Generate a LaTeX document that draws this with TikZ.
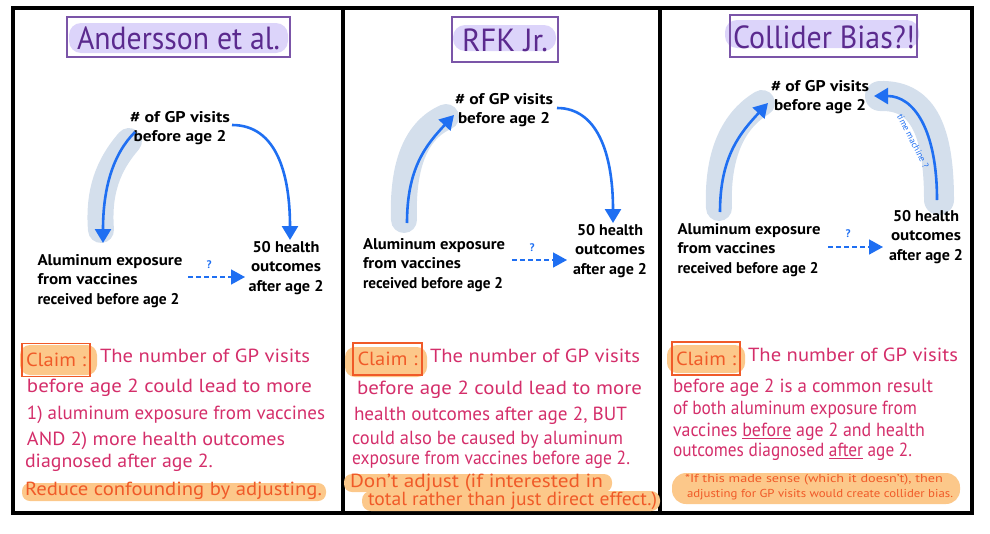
\documentclass[tikz,border=0pt]{standalone}
\usepackage{fontspec}
\setmainfont{PT Sans}
\usetikzlibrary{arrows.meta,calc,backgrounds}
\definecolor{arrowblue}{HTML}{1F6FF2}
\definecolor{hlblue}{HTML}{D4DFEC}
\definecolor{titlepurple}{HTML}{5B2A8E}
\definecolor{boxpurple}{HTML}{7B55A8}
\definecolor{hlpurple}{HTML}{DCD4FA}
\definecolor{claimorange}{HTML}{F05A28}
\definecolor{hlorange}{HTML}{FCC88A}
\definecolor{claimpink}{HTML}{D42E6A}
\newlength{\fitlen}
\newcommand{\fitto}[2]{\settowidth{\fitlen}{#2}\pgfmathsetmacro{\fitfac}{#1/\fitlen}\scalebox{\fitfac}[1]{#2}}
\begin{document}
\begin{tikzpicture}[x=1pt,y=-1pt,
  every node/.style={inner sep=0pt,outer sep=0pt},
  frameline/.style={draw=black,line width=4.2pt},
  titlebox/.style={draw=boxpurple,line width=1.2pt},
  titletext/.style={text=titlepurple,font=\fontsize{32}{34}\selectfont},
  titlehl/.style={fill=hlpurple,rounded corners=12pt},
  lbl/.style={text=black,font=\bfseries\fontsize{15.5}{19.5}\selectfont,align=center},
  lblleft/.style={text=black,font=\bfseries\fontsize{15.5}{19.5}\selectfont,align=left},
  qmark/.style={text=arrowblue,font=\bfseries\fontsize{11}{11}\selectfont},
  arr/.style={draw=arrowblue,line width=2.6pt,-{Triangle[width=16pt,length=14pt]}},
  dasharr/.style={draw=arrowblue,line width=1.6pt,dash pattern=on 5pt off 3pt,-{Triangle[width=15pt,length=14pt]}},
  hl/.style={draw=hlblue,line width=26pt,line cap=round},
  claimbox/.style={draw=claimorange,line width=1.6pt,text=claimorange,font=\fontsize{19}{19}\selectfont,minimum width=68pt,minimum height=33pt},
  claimhl/.style={fill=hlorange,rounded corners=10pt},
  claimtext/.style={text=claimpink,font=\fontsize{19}{19}\selectfont,text height=13pt,text depth=4pt,anchor=west},
  advice/.style={text=claimorange,font=\fontsize{19}{19}\selectfont,text height=13pt,text depth=4pt,anchor=west},
  smallnote/.style={text=claimorange,font=\fontsize{11.5}{12}\selectfont,text height=8pt,text depth=2.5pt,anchor=west},
  tmtext/.style={text=arrowblue,font=\fontsize{9}{9}\selectfont}
]
\useasboundingbox (0,0) rectangle (990,533);

% ---------- frame ----------
\draw[frameline] (13,8) rectangle (972,513);
\draw[frameline] (343,8) -- (343,513);
\draw[frameline] (660,8) -- (660,513);

% ---------- titles ----------
\fill[titlehl] (69,23) rectangle (288,53);
\node[titlebox,minimum width=223pt,minimum height=40pt] (t1) at (178.5,37) {};
\node[titletext] (t1t) at (178.5,38.5) {\fitto{203}{Andersson et al.}};

\fill[titlehl] (453,25) rectangle (556,51);
\node[titlebox,minimum width=106pt,minimum height=45pt] (t2) at (505,39.5) {};
\node[titletext] (t2t) at (505,40) {\fitto{86}{RFK Jr.}};

\fill[titlehl] (725,20) rectangle (919,48);
\node[titlebox,minimum width=187pt,minimum height=42pt] (t3) at (823.5,36) {};
\node[titletext] (t3t) at (824,37) {\fitto{182}{Collider Bias?!}};

% ---------- panel 1 diagram ----------
\node[lbl] (gp1) at (180,128) {\fitto{100}{\# of GP visits}\\\fitto{93}{before age 2}};
\node[lblleft] (al1) at (110,281) {\fitto{145}{Aluminum exposure}\\\fitto{100}{from vaccines}\\\fitto{142}{received before age 2}};
\node[lbl] (ho1) at (286,268) {\fitto{67}{50 health}\\\fitto{70}{outcomes}\\\fitto{75}{after age 2}};
\node[qmark] (q1) at (209,265) {?};
\begin{scope}[on background layer]
  \draw[hl] (129,141) .. controls (108,165) and (98,192) .. (101,230);
\end{scope}
\draw[arr] ($(gp1)+(-45,4)$) .. controls +(-22,22) and +(0,-55) .. ($(al1)+(-7,-38)$);
\draw[arr] ($(gp1)+(52,-3)$) .. controls +(45,0) and +(0,-65) .. ($(ho1)+(4,-28)$);
\draw[dasharr] ($(al1)+(78,-4)$) -- ($(ho1)+(-41,9)$);

% ---------- panel 2 diagram ----------
\node[lbl] (gp2) at (504,110) {\fitto{98}{\# of GP visits}\\\fitto{92}{before age 2}};
\node[lblleft] (al2) at (434,265) {\fitto{142}{Aluminum exposure}\\\fitto{98}{from vaccines}\\\fitto{140}{received before age 2}};
\node[lbl] (ho2) at (610,251) {\fitto{66}{50 health}\\\fitto{70}{outcomes}\\\fitto{74}{after age 2}};
\node[qmark] (q2) at (532,248) {?};
\begin{scope}[on background layer]
  \draw[hl] (404,220) .. controls (402,165) and (416,130) .. (446,117);
\end{scope}
\draw[arr] ($(al2)+(-27,-42)$) .. controls +(0,-55) and +(-28,30) .. ($(gp2)+(-50,5)$);
\draw[arr] ($(gp2)+(53,-2)$) .. controls +(40,0) and +(0,-70) .. ($(ho2)+(3,-28)$);
\draw[dasharr] ($(al2)+(78,-5)$) -- ($(ho2)+(-43,9)$);

% ---------- panel 3 diagram ----------
\node[lbl] (gp3) at (820,97) {\fitto{98}{\# of GP visits}\\\fitto{92}{before age 2}};
\node[lblleft] (al3) at (749,250) {\fitto{143}{Aluminum exposure}\\\fitto{98}{from vaccines}\\\fitto{141}{received before age 2}};
\node[lbl] (ho3) at (926,237) {\fitto{66}{50 health}\\\fitto{70}{outcomes}\\\fitto{74}{after age 2}};
\node[qmark] (q3) at (848,234) {?};
\begin{scope}[on background layer]
  \draw[hl] (719,208) .. controls (717,160) and (730,122) .. (762,103);
  \draw[hl,line width=30pt] (939,200) .. controls (939,125) and (920,95) .. (880,96);
\end{scope}
\draw[arr] ($(al3)+(-29,-38)$) .. controls +(0,-55) and +(-28,30) .. ($(gp3)+(-52,6)$);
\draw[arr] ($(ho3)+(11,-37)$) .. controls +(0,-70) and +(40,0) .. ($(gp3)+(54,-1)$);
\node[tmtext,rotate=-63] (tm) at (913,141) {time machine ?};
\draw[dasharr] ($(al3)+(79,-3)$) -- ($(ho3)+(-43,10)$);

% ---------- panel 1 claim ----------
\fill[claimhl] (20,345) rectangle (97,375);
\node[claimbox] (c1) at (56,360) {\fitto{60}{Claim :}};
\node[claimtext] (p1a) at (100,358) {\fitto{210}{The number of GP visits}};
\node[claimtext] (p1b) at (27,388) {\fitto{285}{before age 2 could lead to more}};
\node[claimtext] (p1c) at (27,415) {\fitto{298}{1) aluminum exposure from vaccines}};
\node[claimtext] (p1d) at (27,441) {\fitto{258}{AND 2) more health outcomes}};
\node[claimtext] (p1e) at (25,463) {\fitto{188}{diagnosed after age 2.}};
\fill[claimhl,rounded corners=8pt] (22,483) rectangle (326,501);
\node[advice] (p1f) at (25,491) {\fitto{297}{Reduce confounding by adjusting.}};

% ---------- panel 2 claim ----------
\fill[claimhl] (345,347) rectangle (427,377);
\node[claimbox,minimum width=69pt,minimum height=32pt] (c2) at (387.5,359) {\fitto{60}{Claim :}};
\node[claimtext] (p2a) at (430,358) {\fitto{210}{The number of GP visits}};
\node[claimtext] (p2b) at (357,390) {\fitto{285}{before age 2 could lead to more}};
\node[claimtext] (p2c) at (354,416) {\fitto{273}{health outcomes after age 2, BUT}};
\node[claimtext] (p2d) at (352,440) {\fitto{271}{could also be caused by aluminum}};
\node[claimtext] (p2e) at (352,460) {\fitto{278}{exposure from vaccines before age 2.}};
\fill[claimhl,rounded corners=8pt] (344,474) rectangle (612,492);
\fill[claimhl,rounded corners=9pt] (362,491) rectangle (660,511);
\node[advice] (p2f) at (350,483) {\fitto{253}{Don't adjust (if interested in}};
\node[advice] (p2g) at (368,501) {\fitto{289}{total rather than just direct effect.)}};

% ---------- panel 3 claim ----------
\fill[claimhl] (667,345) rectangle (745,373);
\node[claimbox] (c3) at (706,358.5) {\fitto{60}{Claim :}};
\node[claimtext] (p3a) at (748,357) {\fitto{210}{The number of GP visits}};
\node[claimtext] (p3b) at (673,388) {\fitto{260}{before age 2 is a common result}};
\node[claimtext] (p3c) at (673,410) {\fitto{244}{of both aluminum exposure from}};
\node[claimtext] (p3d) at (673,432) {\fitto{252}{vaccines \underline{before} age 2 and health}};
\node[claimtext] (p3e) at (673,452) {\fitto{239}{outcomes diagnosed \underline{after} age 2.}};
\fill[claimhl,rounded corners=14pt] (672,473) rectangle (960,504);
\node[smallnote] (p3f) at (685,480) {\fitto{258}{*If this made sense (which it doesn't), then}};
\node[smallnote] (p3g) at (687,495) {\fitto{266}{adjusting for GP visits would create collider bias.}};
\end{tikzpicture}
\end{document}
